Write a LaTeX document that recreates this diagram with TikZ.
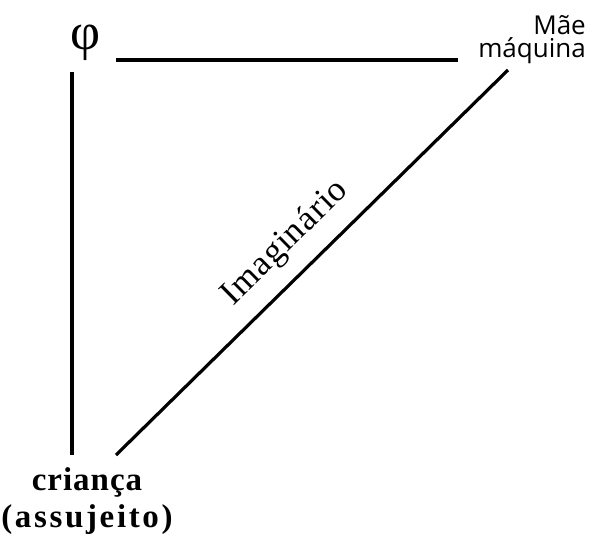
\documentclass[tikz,border=0pt]{standalone}
\usepackage{fontspec}
\setmainfont{Liberation Serif}
\newfontfamily\labsans{Open Sans}
\begin{document}
\begin{tikzpicture}[x=1pt,y=-1pt,
  edge/.style={line width=3.2pt,black},
  serlab/.style={font=\fontsize{33}{37}\selectfont\bfseries, align=center, inner sep=0pt},
  sanslab/.style={font=\labsans\fontsize{26}{22.5}\selectfont, align=right, inner sep=0pt}]
\useasboundingbox (0,0) rectangle (589,533);
\node[inner sep=0pt, font=\fontsize{52}{52}\selectfont] (phi) at (86,43) {φ};
\node[sanslab, anchor=base east] (mae) at (586,57) {Mãe\\máquina};
\node[serlab, anchor=base] (crianca) at (87,527) {{\addfontfeature{LetterSpace=3}criança}\\{\addfontfeature{LetterSpace=8}(assujeito)}};
\coordinate (h1) at (116,60);
\coordinate (h2) at (458,60);
\coordinate (v1) at (72,72);
\coordinate (v2) at (72,455);
\coordinate (d1) at (116,455);
\coordinate (d2) at (508,70);
\draw[edge] (h1) -- (h2);
\draw[edge] (v1) -- (v2);
\draw[edge] (d1) -- node[sloped, above=15pt, font=\fontsize{35}{35}\selectfont\addfontfeature{LetterSpace=3}, inner sep=0pt, pos=0.49] (imag) {Imaginário} (d2);
\end{tikzpicture}
\end{document}
